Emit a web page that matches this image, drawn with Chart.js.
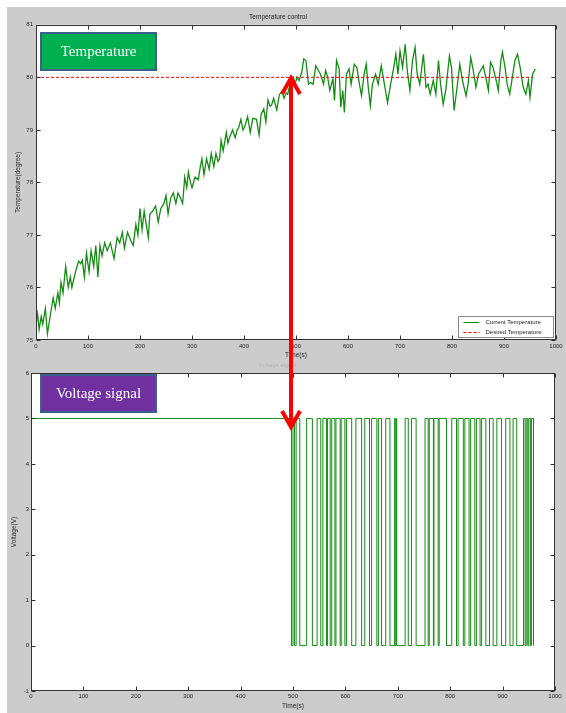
<!DOCTYPE html>
<html>
<head>
<meta charset="utf-8">
<script src="https://cdn.jsdelivr.net/npm/chart.js@4.4.0/dist/chart.umd.min.js"></script>
<style>
  html, body { margin: 0; padding: 0; background: #fff; overflow: hidden; }
  #fig { position: absolute; left: 7px; top: 7px; width: 559px; height: 706px; background: #cccccc; }
  canvas { position: absolute; left: 0; }
  #tempChart { top: 0; }
  #voltChart { top: 362px; }
</style>
</head>
<body>
<div id="fig"></div>
<canvas id="tempChart" width="566" height="362"></canvas>
<canvas id="voltChart" width="566" height="351"></canvas>
<script>
// --- data ---
const timeTicks = [0, 100, 200, 300, 400, 500, 600, 700, 800, 900, 1000];
const tempTicks = [75, 76, 77, 78, 79, 80, 81];
const voltTicks = [-1, 0, 1, 2, 3, 4, 5, 6];

// current temperature (time in s, degree)
const tempTime = [0, 3, 6, 10, 13, 18, 22, 28, 33, 37, 42, 45, 48, 52, 57, 62, 66, 69, 76, 82,
  86, 89, 93, 97, 102, 106, 111, 115, 119, 123, 127, 132, 137, 143, 150, 156, 161, 166, 170, 176,
  182, 187, 192, 196, 200, 204, 208, 212, 216, 219, 224, 230, 235, 240, 246, 250, 254, 259, 264, 269,
  273, 278, 282, 286, 290, 293, 297, 300,
  306, 312, 316, 319, 323, 328, 333, 337, 342, 346, 350, 353, 356, 360, 366, 369, 372, 378, 383, 387,
  390, 394, 398, 401, 407, 412, 417, 424, 429, 433, 438, 442, 446, 450, 453, 457, 463, 468, 473, 477,
  481, 484, 489, 495,
  498, 502, 506, 511, 515, 519, 524, 528, 533, 538, 543, 547, 553, 557, 561, 565, 571, 574, 578, 583,
  586, 590, 593, 597, 602, 606, 612, 617, 622, 626, 631, 635, 639, 643, 647, 653, 658, 664, 670, 676,
  682, 688, 692, 696, 700, 705, 710, 714, 719, 724, 729, 733, 738,
  745, 750, 754, 758, 764, 769, 774, 778, 783, 788, 795, 799, 804, 809, 815, 820, 827, 831, 836, 841,
  846, 851, 855, 860, 865, 870, 874, 879, 885, 889, 894, 897, 902, 906, 911, 917, 921, 926, 931, 937,
  942, 947, 950, 955, 960];
const tempValue = [75.3, 75.5, 75.2, 75.45, 75.3, 75.6, 75.12, 75.5, 75.8, 75.6, 75.9, 75.7, 76.1, 75.9, 76.4, 76.0, 76.2, 76.0, 76.3, 76.5,
  76.45, 76.52, 76.2, 76.65, 76.3, 76.7, 76.4, 76.8, 76.2, 76.8, 76.6, 76.85, 76.7, 76.85, 76.55, 76.95, 76.85, 77.05, 76.75, 77.05,
  76.9, 76.8, 77.2, 77.0, 77.5, 77.1, 77.45, 77.2, 76.95, 77.4, 77.45, 77.55, 77.25, 77.5, 77.6, 77.75, 77.4, 77.7, 77.8, 77.6,
  77.8, 77.7, 77.6, 78.1, 77.9, 78.2, 78.0, 77.9,
  78.1, 78.05, 78.3, 78.45, 78.15, 78.45, 78.25, 78.55, 78.3, 78.55, 78.4, 78.45, 78.8, 78.6, 78.95, 78.75, 78.85, 79.0, 78.85, 79.0,
  79.05, 79.2, 79.0, 79.05, 79.25, 78.95, 79.22, 79.2, 78.9, 79.3, 79.4, 79.15, 79.57, 79.45, 79.47, 79.6, 79.38, 79.67, 79.73, 79.6,
  79.7, 79.68, 79.9, 80.0,
  79.87, 80.0, 79.94, 80.1, 80.35, 80.32, 79.87, 79.9, 79.87, 80.22, 80.13, 80.06, 79.87, 80.13, 80.0, 79.75, 79.97, 79.56, 80.32, 80.16,
  79.43, 79.75, 79.33, 80.06, 80.16, 79.87, 80.25, 80.19, 79.87, 79.65, 80.06, 80.25, 79.81, 79.46, 79.87, 80.06, 79.87, 80.22, 79.87, 79.52,
  79.87, 80.19, 80.44, 80.06, 80.5, 80.19, 80.63, 80.13, 79.75, 80.32, 80.57, 80.06, 79.87,
  80.44, 79.81, 79.87, 79.68, 79.94, 79.68, 80.32, 79.87, 79.49, 79.75, 80.41, 80.19, 79.37, 79.75, 80.25, 79.94, 79.65, 79.87, 80.38, 80.13,
  79.81, 80.06, 80.13, 80.22, 80.0, 79.75, 80.29, 80.19, 79.94, 79.75, 80.32, 80.48, 80.19, 79.87, 79.68, 80.06, 80.32, 80.44, 80.19, 79.81,
  79.68, 79.94, 79.62, 80.06, 80.16];

// desired temperature
const desiredTime = [0, 956];
const desiredValue = [80, 80];

// voltage signal: value holds from each time until the next one
const voltTime = [0, 497, 500, 503, 506, 513, 526, 537, 546, 553, 557, 564, 566, 571, 574, 580, 582, 590, 592, 599,
  602, 612, 620, 631, 637, 646, 650, 660, 663, 669, 677, 685, 694, 695, 697, 698, 714, 720, 726, 735,
  752, 758, 760, 768, 769, 777, 779, 793, 803, 812, 815, 825, 828, 836, 839, 847, 850, 857, 860, 868,
  875, 882, 889, 898, 906, 914, 920, 927, 940, 943, 945, 948, 950, 953, 955, 959];
const voltValue = [5, 0, 5, 0, 5, 0, 5, 0, 5, 0, 5, 0, 5, 0, 5, 0, 5, 0, 5, 0,
  5, 0, 5, 0, 5, 0, 5, 0, 5, 0, 5, 0, 5, 0, 5, 0, 5, 0, 5, 0,
  5, 0, 5, 0, 5, 0, 5, 0, 5, 0, 5, 0, 5, 0, 5, 0, 5, 0, 5, 0,
  5, 0, 5, 0, 5, 0, 5, 0, 5, 0, 5, 0, 5, 0, 5, 0];

const pts = (xs, ys) => xs.map((x, i) => ({ x: x, y: ys[i] }));

Chart.defaults.font.family = '"Liberation Sans", Arial, sans-serif';
Chart.defaults.font.size = 6;
Chart.defaults.color = '#262626';

const GREEN = '#148c14';
const RED = '#ff0000';

// white axes box, inward ticks on all four sides, legend, text box and arrow
const frame = {
  id: 'frame',
  beforeDraw(chart) {
    const a = chart.chartArea, ctx = chart.ctx;
    ctx.save();
    ctx.fillStyle = '#ffffff';
    ctx.fillRect(a.left, a.top, a.right - a.left, a.bottom - a.top);
    ctx.restore();
  },
  afterDraw(chart, args, opts) {
    const ctx = chart.ctx, a = chart.chartArea;
    const xs = chart.scales.x, ys = chart.scales.y;
    const L = Math.round(a.left) + 0.5, R = Math.round(a.right) - 0.5;
    const T = Math.round(a.top) + 0.5, B = Math.round(a.bottom) - 0.5;
    ctx.save();
    ctx.strokeStyle = '#333333';
    ctx.lineWidth = 1;
    ctx.strokeRect(L, T, R - L, B - T);
    ctx.beginPath();
    xs.ticks.forEach(t => {
      const px = Math.round(xs.getPixelForValue(t.value)) + 0.5;
      ctx.moveTo(px, B); ctx.lineTo(px, B - 4);
      ctx.moveTo(px, T); ctx.lineTo(px, T + 4);
    });
    ys.ticks.forEach(t => {
      const py = Math.round(ys.getPixelForValue(t.value)) + 0.5;
      ctx.moveTo(L, py); ctx.lineTo(L + 4, py);
      ctx.moveTo(R, py); ctx.lineTo(R - 4, py);
    });
    ctx.stroke();

    // legend inside the lower right corner
    if (opts.legend) {
      const w = 95, h = 21;
      const lx = Math.round(a.right) - 3 - w + 0.5, ly = Math.round(a.bottom) - 3 - h + 0.5;
      ctx.fillStyle = '#ffffff';
      ctx.fillRect(lx, ly, w, h);
      ctx.strokeStyle = '#8a8a8a';
      ctx.strokeRect(lx, ly, w, h);
      ctx.font = '6px "Liberation Sans", Arial, sans-serif';
      ctx.textBaseline = 'middle';
      ctx.textAlign = 'left';
      chart.data.datasets.forEach((ds, i) => {
        const ry = ly + 6 + i * 10;
        ctx.beginPath();
        ctx.strokeStyle = ds.borderColor;
        ctx.lineWidth = 1;
        ctx.setLineDash(ds.borderDash || []);
        ctx.moveTo(lx + 5, ry); ctx.lineTo(lx + 21, ry);
        ctx.stroke();
        ctx.setLineDash([]);
        ctx.fillStyle = '#222222';
        ctx.fillText(ds.label, lx + 27, ry);
      });
    }

    // coloured caption box
    const bx = opts.box;
    ctx.fillStyle = bx.fill;
    ctx.fillRect(bx.x, bx.y, bx.w, bx.h);
    ctx.strokeStyle = '#3c5f8e';
    ctx.lineWidth = 2;
    ctx.strokeRect(bx.x, bx.y, bx.w, bx.h);
    ctx.fillStyle = '#ffffff';
    ctx.font = '15px "Liberation Serif", "Times New Roman", serif';
    ctx.textAlign = 'center';
    ctx.textBaseline = 'middle';
    ctx.fillText(bx.text, bx.x + bx.w / 2, bx.y + bx.h / 2 + 1);

    // red double arrow (each canvas draws its own part)
    const ar = opts.arrow;
    ctx.strokeStyle = RED;
    ctx.lineWidth = 4;
    ctx.lineJoin = 'miter';
    ctx.beginPath();
    ctx.moveTo(ar.x, ar.from); ctx.lineTo(ar.x, ar.to);
    ctx.stroke();
    const d = ar.up ? 1 : -1;
    ctx.beginPath();
    ctx.moveTo(ar.x - 9, ar.tip + 16 * d);
    ctx.lineTo(ar.x, ar.tip);
    ctx.lineTo(ar.x + 9, ar.tip + 16 * d);
    ctx.stroke();
    ctx.restore();
  }
};

function setTicks(values) {
  return scale => { scale.ticks = values.map(v => ({ value: v })); };
}
const plain = v => String(v);

new Chart(document.getElementById('tempChart'), {
  type: 'line',
  data: {
    datasets: [
      {
        label: 'Current Temperature',
        data: pts(tempTime, tempValue),
        borderColor: GREEN,
        borderWidth: 1.3,
        pointRadius: 0,
        tension: 0,
        order: 1
      },
      {
        label: 'Desired Temperature',
        data: pts(desiredTime, desiredValue),
        borderColor: RED,
        borderWidth: 1,
        borderDash: [3, 2],
        pointRadius: 0,
        order: 0
      }
    ]
  },
  options: {
    responsive: false,
    animation: false,
    layout: { padding: { left: 0, top: 0, right: 10, bottom: 0 } },
    scales: {
      x: {
        type: 'linear',
        min: 0, max: 1000,
        afterBuildTicks: setTicks(timeTicks),
        afterFit: s => { s.height = 22; },
        grid: { display: false, drawTicks: false },
        border: { display: false },
        ticks: { padding: 3, maxRotation: 0, autoSkip: false, callback: plain },
        title: { display: true, text: 'Time(s)', font: { size: 6.5 }, padding: { top: 0, bottom: 3 } }
      },
      y: {
        type: 'linear',
        min: 75, max: 81,
        afterBuildTicks: setTicks(tempTicks),
        afterFit: s => { s.width = 36; },
        grid: { display: false, drawTicks: false },
        border: { display: false },
        ticks: { padding: 3, callback: plain },
        title: { display: true, text: 'Temperature(degree)', font: { size: 6.5 }, padding: { top: 14, bottom: 0 } }
      }
    },
    plugins: {
      legend: { display: false },
      tooltip: { enabled: false },
      title: {
        display: true,
        text: 'Temperature control',
        color: '#222222',
        font: { size: 6.5, weight: 'normal' },
        padding: { top: 13, bottom: 4 }
      },
      frame: {
        legend: true,
        box: { x: 41, y: 33, w: 115, h: 37, fill: '#00b050', text: 'Temperature' },
        arrow: { x: 291, from: 80, to: 380, tip: 78, up: true }
      }
    }
  },
  plugins: [frame]
});

new Chart(document.getElementById('voltChart'), {
  type: 'line',
  data: {
    datasets: [
      {
        label: 'Voltage',
        data: pts(voltTime, voltValue),
        borderColor: GREEN,
        borderWidth: 1,
        pointRadius: 0,
        stepped: true
      }
    ]
  },
  options: {
    responsive: false,
    animation: false,
    layout: { padding: { left: 0, top: 0, right: 11, bottom: 0 } },
    scales: {
      x: {
        type: 'linear',
        min: 0, max: 1000,
        afterBuildTicks: setTicks(timeTicks),
        afterFit: s => { s.height = 22; },
        grid: { display: false, drawTicks: false },
        border: { display: false },
        ticks: { padding: 2, maxRotation: 0, autoSkip: false, callback: plain },
        title: { display: true, text: 'Time(s)', font: { size: 6.5 }, padding: { top: 0, bottom: 3 } }
      },
      y: {
        type: 'linear',
        min: -1, max: 6,
        afterBuildTicks: setTicks(voltTicks),
        afterFit: s => { s.width = 31; },
        grid: { display: false, drawTicks: false },
        border: { display: false },
        ticks: { padding: 2, callback: plain },
        title: { display: true, text: 'Voltage(V)', font: { size: 6.5 }, padding: { top: 10, bottom: 0 } }
      }
    },
    plugins: {
      legend: { display: false },
      tooltip: { enabled: false },
      title: {
        display: true,
        text: 'Voltage signal',
        color: '#b4b4b4',
        font: { size: 6, weight: 'normal' },
        padding: { top: 0, bottom: 3.8 }
      },
      frame: {
        legend: false,
        box: { x: 41, y: 13, w: 115, h: 37, fill: '#7030a0', text: 'Voltage signal' },
        arrow: { x: 291, from: -20, to: 63, tip: 65, up: false }
      }
    }
  },
  plugins: [frame]
});
</script>
</body>
</html>
